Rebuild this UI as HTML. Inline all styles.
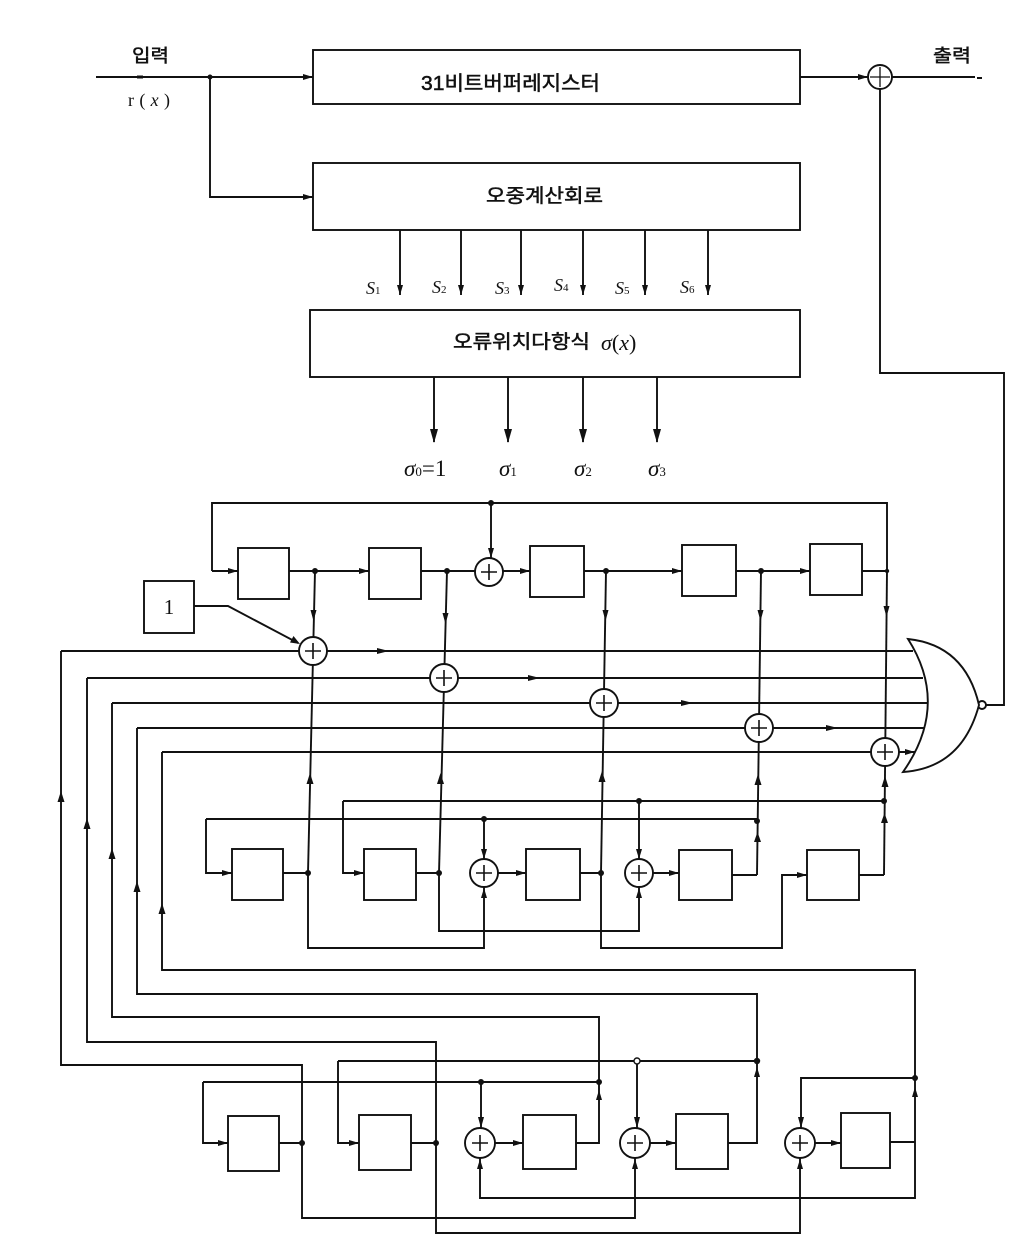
<!DOCTYPE html>
<html>
<head>
<meta charset="utf-8">
<style>
html,body{margin:0;padding:0;background:#fff;}
svg{display:block;}
.k{font-family:"Liberation Sans","Noto Sans CJK KR",sans-serif;font-weight:normal;fill:#111;stroke:#111;stroke-width:0.5;}
.m{font-family:"Liberation Serif",serif;font-style:italic;fill:#111;}
</style>
</head>
<body>
<svg width="1014" height="1244" viewBox="0 0 1014 1244" xmlns="http://www.w3.org/2000/svg">
<rect x="0" y="0" width="1014" height="1244" fill="#fff"/>
<g fill="none" stroke="#111" stroke-width="1.9">
<path d="M96 77 H313"/>
<path d="M137 77 H143" stroke-width="3"/>
<path d="M210 77 V197 H313"/>
<rect x="313" y="50" width="487" height="54"/>
<rect x="313" y="163" width="487" height="67"/>
<path d="M800 77 H868"/>
<path d="M892 77 H975 M977 78 H982"/>
<circle cx="880" cy="77" r="12" fill="#fff"/>
<path d="M880 67 V87 M870 77 H890" stroke-width="1.3"/>
<path d="M880 89 V373 H1004 V705 H986"/>
<circle cx="982" cy="705" r="4" fill="#fff"/>
<path d="M400 230 V295 M461 230 V295 M521 230 V295 M583 230 V295 M645 230 V295 M708 230 V295"/>
<rect x="310" y="310" width="490" height="67"/>
<path d="M434 377 V442 M508 377 V442 M583 377 V442 M657 377 V442"/>
<path d="M212 571 V503 H887 V571"/>
<path d="M212 571 H238"/>
<path d="M491 503 V558"/>
<rect x="238" y="548" width="51" height="51"/>
<rect x="369" y="548" width="52" height="51"/>
<rect x="530" y="546" width="54" height="51"/>
<rect x="682" y="545" width="54" height="51"/>
<rect x="810" y="544" width="52" height="51"/>
<path d="M289 571 H369 M421 571 H475 M503 571 H530 M584 571 H682 M736 571 H810 M862 571 H887"/>
<path d="M315 571 L308 873"/>
<path d="M447 571 L439 873"/>
<path d="M606 571 L601 873"/>
<path d="M761 571 L757 875"/>
<path d="M887 571 L884 875"/>
<path d="M61 651 H913"/>
<path d="M87 678 H923"/>
<path d="M112 703 H927"/>
<path d="M137 728 H925"/>
<path d="M162 752 H915"/>
<rect x="144" y="581" width="50" height="52"/>
<path d="M194 606 H228 L298 643"/>
<path d="M908 639 Q965 645 979 705 Q962 768 903 772 Q950 705 908 639 Z" fill="#fff"/>
<path d="M61 651 V1065 H302 V1218 H635 V1158"/>
<path d="M87 678 V1042 H436 V1233 H800 V1158"/>
<path d="M112 703 V1017 H599 V1143 H576"/>
<path d="M137 728 V994 H757 V1143 H728"/>
<path d="M162 752 V970 H915 V1198 H480 V1158"/>
<path d="M890 1142 H915"/>
<path d="M206 819 V873 H232"/>
<path d="M206 819 H757"/>
<path d="M343 801 V873 H364"/>
<path d="M343 801 H884"/>
<rect x="232" y="849" width="51" height="51"/>
<rect x="364" y="849" width="52" height="51"/>
<rect x="526" y="849" width="54" height="51"/>
<rect x="679" y="850" width="53" height="50"/>
<rect x="807" y="850" width="52" height="50"/>
<path d="M283 873 H308 M416 873 H439 M580 873 H601 M732 875 H757 M859 875 H884"/>
<path d="M308 873 V948 H484 V887"/>
<path d="M439 873 V931 H639 V887"/>
<path d="M601 873 V948 H782 V875 H807"/>
<path d="M484 819 V859 M639 801 V859"/>
<path d="M498 873 H526 M653 873 H679"/>
<path d="M203 1082 V1143 H228"/>
<path d="M203 1082 H599"/>
<path d="M338 1061 V1143 H359"/>
<path d="M338 1061 H757"/>
<rect x="228" y="1116" width="51" height="55"/>
<rect x="359" y="1115" width="52" height="55"/>
<rect x="523" y="1115" width="53" height="54"/>
<rect x="676" y="1114" width="52" height="55"/>
<rect x="841" y="1113" width="49" height="55"/>
<path d="M279 1143 H302 M411 1143 H436"/>
<path d="M481 1082 V1128 M637 1061 V1128"/>
<path d="M915 1078 H801 V1128"/>
<path d="M495 1143 H523 M650 1143 H676 M815 1143 H841"/>
</g>
<g fill="#fff" stroke="#111" stroke-width="1.9">
<circle cx="489" cy="572" r="14"/>
<circle cx="313" cy="651" r="14"/>
<circle cx="444" cy="678" r="14"/>
<circle cx="604" cy="703" r="14"/>
<circle cx="759" cy="728" r="14"/>
<circle cx="885" cy="752" r="14"/>
<circle cx="484" cy="873" r="14"/>
<circle cx="639" cy="873" r="14"/>
<circle cx="480" cy="1143" r="15"/>
<circle cx="635" cy="1143" r="15"/>
<circle cx="800" cy="1143" r="15"/>
</g>
<g fill="none" stroke="#111" stroke-width="1.6">
<path d="M489 564 V580 M481 572 H497"/>
<path d="M313 643 V659 M305 651 H321"/>
<path d="M444 670 V686 M436 678 H452"/>
<path d="M604 695 V711 M596 703 H612"/>
<path d="M759 720 V736 M751 728 H767"/>
<path d="M885 744 V760 M877 752 H893"/>
<path d="M484 865 V881 M476 873 H492"/>
<path d="M639 865 V881 M631 873 H647"/>
<path d="M480 1135 V1151 M472 1143 H488"/>
<path d="M635 1135 V1151 M627 1143 H643"/>
<path d="M800 1135 V1151 M792 1143 H808"/>
</g>
<g fill="#111">
<circle cx="210" cy="77" r="2.5"/>
<circle cx="491" cy="503" r="3"/>
<circle cx="315" cy="571" r="3"/>
<circle cx="447" cy="571" r="3"/>
<circle cx="606" cy="571" r="3"/>
<circle cx="761" cy="571" r="3"/>
<circle cx="887" cy="571" r="2.2"/>
<circle cx="308" cy="873" r="3"/>
<circle cx="439" cy="873" r="3"/>
<circle cx="601" cy="873" r="3"/>
<circle cx="484" cy="819" r="3"/>
<circle cx="639" cy="801" r="3"/>
<circle cx="757" cy="821" r="3"/>
<circle cx="884" cy="801" r="3"/>
<circle cx="302" cy="1143" r="3"/>
<circle cx="436" cy="1143" r="3"/>
<circle cx="481" cy="1082" r="3"/>
<circle cx="599" cy="1082" r="3"/>
<circle cx="757" cy="1061" r="3.2"/>
<circle cx="915" cy="1078" r="3"/>
</g>
<circle cx="637" cy="1061" r="3" fill="#fff" stroke="#111" stroke-width="1.4"/>
<g fill="#111" stroke="none">
<polygon points="303,74 313,77 303,80"/>
<polygon points="303,194 313,197 303,200"/>
<polygon points="858,74 868,77 858,80"/>
<polygon points="228,568 238,571 228,574"/>
<polygon points="359,568 369,571 359,574"/>
<polygon points="520,568 530,571 520,574"/>
<polygon points="672,568 682,571 672,574"/>
<polygon points="800,568 810,571 800,574"/>
<polygon points="377,648 389,651 377,654"/>
<polygon points="528,675 540,678 528,681"/>
<polygon points="681,700 693,703 681,706"/>
<polygon points="826,725 838,728 826,731"/>
<polygon points="905,749 915,752 905,755"/>
<polygon points="222,870 232,873 222,876"/>
<polygon points="354,870 364,873 354,876"/>
<polygon points="516,870 526,873 516,876"/>
<polygon points="669,870 679,873 669,876"/>
<polygon points="797,872 807,875 797,878"/>
<polygon points="218,1140 228,1143 218,1146"/>
<polygon points="349,1140 359,1143 349,1146"/>
<polygon points="513,1140 523,1143 513,1146"/>
<polygon points="666,1140 676,1143 666,1146"/>
<polygon points="831,1140 841,1143 831,1146"/>
<polygon points="300,644 290,642.5 293.5,636"/>
<polygon points="397,285 400,295 403,285"/>
<polygon points="458,285 461,295 464,285"/>
<polygon points="518,285 521,295 524,285"/>
<polygon points="580,285 583,295 586,285"/>
<polygon points="642,285 645,295 648,285"/>
<polygon points="705,285 708,295 711,285"/>
<polygon points="430,429 434,443 438,429"/>
<polygon points="504,429 508,443 512,429"/>
<polygon points="579,429 583,443 587,429"/>
<polygon points="653,429 657,443 661,429"/>
<polygon points="488,548 491,558 494,548"/>
<polygon points="310.5,610 313.5,621 316.5,610"/>
<polygon points="442.5,613 445.5,624 448.5,613"/>
<polygon points="602.5,610 605.5,621 608.5,610"/>
<polygon points="757.5,610 760.5,621 763.5,610"/>
<polygon points="883.5,606 886.5,617 889.5,606"/>
<polygon points="481,849 484,859 487,849"/>
<polygon points="636,849 639,859 642,849"/>
<polygon points="478,1117 481,1128 484,1117"/>
<polygon points="634,1117 637,1128 640,1117"/>
<polygon points="798,1117 801,1128 804,1117"/>
<polygon points="57.5,802 61,791 64.5,802"/>
<polygon points="83.5,829 87,818 90.5,829"/>
<polygon points="108.5,859 112,848 115.5,859"/>
<polygon points="133.5,892 137,881 140.5,892"/>
<polygon points="158.5,914 162,903 165.5,914"/>
<polygon points="306.5,784 310,773 313.5,784"/>
<polygon points="437,784 440.5,773 444,784"/>
<polygon points="598.5,782 602,771 605.5,782"/>
<polygon points="754.5,785 758,774 761.5,785"/>
<polygon points="881.5,787 885,776 888.5,787"/>
<polygon points="754,842 757.5,832 761,842"/>
<polygon points="881,823 884.5,813 888,823"/>
<polygon points="481,898 484,888 487,898"/>
<polygon points="636,898 639,888 642,898"/>
<polygon points="477,1169 480,1159 483,1169"/>
<polygon points="632,1169 635,1159 638,1169"/>
<polygon points="797,1169 800,1159 803,1169"/>
<polygon points="596,1100 599,1090 602,1100"/>
<polygon points="754,1077 757,1067 760,1077"/>
<polygon points="912,1097 915,1087 918,1097"/>
</g>
<text class="k" x="132" y="62" font-size="18" textLength="37" lengthAdjust="spacingAndGlyphs">입력</text>
<text x="128" y="106" font-family="Liberation Serif,serif" font-size="18" fill="#111" textLength="42" lengthAdjust="spacing">r(<tspan font-style="italic">x</tspan>)</text>
<text class="k" x="933" y="62" font-size="18" textLength="38" lengthAdjust="spacingAndGlyphs">출력</text>
<text class="k" x="421" y="90" font-size="20" textLength="179" lengthAdjust="spacingAndGlyphs">31비트버퍼레지스터</text>
<text class="k" x="486" y="202" font-size="19" textLength="117" lengthAdjust="spacingAndGlyphs">오중계산회로</text>
<text class="k" x="453" y="348" font-size="19" textLength="137" lengthAdjust="spacingAndGlyphs">오류위치다항식</text>
<text class="m" x="601" y="350" font-size="22">σ<tspan font-style="normal">(</tspan>x<tspan font-style="normal">)</tspan></text>
<g class="m" font-size="18">
<text x="366" y="294">S<tspan font-size="11" font-style="normal">1</tspan></text>
<text x="432" y="293">S<tspan font-size="11" font-style="normal">2</tspan></text>
<text x="495" y="294">S<tspan font-size="11" font-style="normal">3</tspan></text>
<text x="554" y="291">S<tspan font-size="11" font-style="normal">4</tspan></text>
<text x="615" y="294">S<tspan font-size="11" font-style="normal">5</tspan></text>
<text x="680" y="293">S<tspan font-size="11" font-style="normal">6</tspan></text>
</g>
<g class="m" font-size="23">
<text x="404" y="476">σ<tspan font-size="13" font-style="normal">0</tspan><tspan font-style="normal">=1</tspan></text>
<text x="499" y="476">σ<tspan font-size="13" font-style="normal">1</tspan></text>
<text x="574" y="476">σ<tspan font-size="13" font-style="normal">2</tspan></text>
<text x="648" y="476">σ<tspan font-size="13" font-style="normal">3</tspan></text>
</g>
<text x="169" y="614" font-family="Liberation Serif,serif" font-size="21" fill="#111" text-anchor="middle">1</text>
</svg>
</body>
</html>
